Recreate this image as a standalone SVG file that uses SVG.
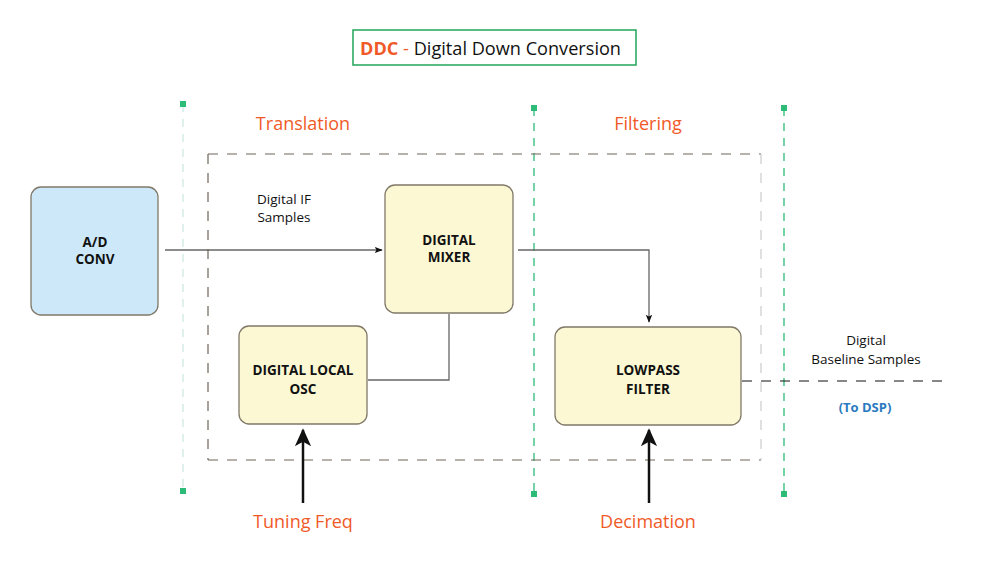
<svg xmlns="http://www.w3.org/2000/svg" width="1000" height="575" viewBox="0 0 1000 575">
<defs>
<style>
text{font-family:"Open Sans","Liberation Sans",sans-serif;}
.lbl{font-size:13.5px;fill:#111;text-anchor:middle;}
.bold{font-size:13.5px;font-weight:bold;fill:#111;text-anchor:middle;}
.sec{font-size:18px;fill:#f05a28;text-anchor:middle;}
.box{stroke:#807868;stroke-width:1.3;}
.yel{fill:#fbf8d3;}
.blue{fill:#cde9f9;}
.conn{fill:none;stroke:#666;stroke-width:1.3;}
.guide{stroke:#2dbb78;stroke-width:1.3;stroke-dasharray:8 7;}
.sq{fill:#2dbb78;}
</style>
<marker id="a" viewBox="0 0 10 10" refX="9" refY="5" markerWidth="8" markerHeight="8" markerUnits="userSpaceOnUse" orient="auto"><path d="M0,1 L10,5 L0,9 L2,5 Z" fill="#111"/></marker>
<marker id="big" viewBox="0 0 10 10" refX="9" refY="5" markerWidth="18" markerHeight="18" markerUnits="userSpaceOnUse" orient="auto"><path d="M0,0.5 L10,5 L0,9.5 L2.5,5 Z" fill="#111"/></marker>
</defs>
<rect width="1000" height="575" fill="#fff"/>

<g id="title">
<rect x="353" y="30" width="283" height="35" fill="#fff" stroke="#22a55a" stroke-width="1.5"/>
<text x="360" y="54.5" style="font-size:18.2px" fill="#111" textLength="261" lengthAdjust="spacingAndGlyphs"><tspan fill="#f05a28" font-weight="bold">DDC</tspan><tspan fill="#f05a28"> - </tspan>Digital Down Conversion</text>
</g>

<g id="guides">
<line x1="183" y1="104" x2="183" y2="491" stroke="#cfe8e4" stroke-width="1.3" stroke-dasharray="8 7"/>
<rect x="180" y="101" width="6" height="6" class="sq"/>
<rect x="180" y="488" width="6" height="6" class="sq"/>
<line x1="534" y1="108" x2="534" y2="494" class="guide"/>
<rect x="531" y="105" width="6" height="6" class="sq"/>
<rect x="531" y="491" width="6" height="6" class="sq"/>
<line x1="784" y1="108" x2="784" y2="494" class="guide"/>
<rect x="781" y="105" width="6" height="6" class="sq"/>
<rect x="781" y="491" width="6" height="6" class="sq"/>
</g>

<g id="frame">
<path d="M208,154 H761 M208,460 H761 M208,154 V460" fill="none" stroke="#6e6658" stroke-width="1.2" stroke-dasharray="10 9"/>
<line x1="761" y1="154" x2="761" y2="460" stroke="#ccc" stroke-width="1.2" stroke-dasharray="10 9"/>
</g>

<text class="sec" x="303" y="130">Translation</text>
<text class="sec" x="648" y="130">Filtering</text>

<g id="connectors">
<line x1="165" y1="250" x2="382" y2="250" class="conn" marker-end="url(#a)"/>
<polyline points="518,250 649,250 649,322" class="conn" stroke="#444" marker-end="url(#a)"/>
<polyline points="368,380 449,380 449,314" class="conn" stroke="#444"/>
<line x1="742" y1="381" x2="946" y2="381" stroke="#111" stroke-width="1.2" stroke-dasharray="10 9"/>
<line x1="303" y1="503" x2="303" y2="430" stroke="#111" stroke-width="2.5" marker-end="url(#big)"/>
<line x1="649" y1="503" x2="649" y2="430" stroke="#111" stroke-width="2.5" marker-end="url(#big)"/>
</g>

<g id="adconv">
<rect x="31" y="187" width="127" height="128" rx="10" class="box blue"/>
<text class="bold" x="95" y="247">A/D</text>
<text class="bold" x="95" y="264">CONV</text>
</g>

<g id="mixer">
<rect x="385" y="185" width="128" height="128" rx="10" class="box yel"/>
<text class="bold" x="449" y="245">DIGITAL</text>
<text class="bold" x="449" y="262">MIXER</text>
</g>

<g id="osc">
<rect x="239" y="326" width="128" height="98" rx="10" class="box yel"/>
<text class="bold" x="303" y="375">DIGITAL LOCAL</text>
<text class="bold" x="303" y="394">OSC</text>
</g>

<g id="lowpass">
<rect x="555" y="327" width="186" height="98" rx="10" class="box yel"/>
<text class="bold" x="648" y="375">LOWPASS</text>
<text class="bold" x="648" y="394">FILTER</text>
</g>

<g id="labels">
<text class="lbl" x="284" y="204">Digital IF</text>
<text class="lbl" x="284" y="222">Samples</text>
<text class="lbl" x="866" y="345">Digital</text>
<text class="lbl" x="866" y="364">Baseline Samples</text>
<text x="865" y="412" style="font-size:13px;font-weight:bold;fill:#2a7abf;text-anchor:middle">(To DSP)</text>
<text class="sec" x="303" y="528">Tuning Freq</text>
<text class="sec" x="648" y="528">Decimation</text>
</g>
</svg>
